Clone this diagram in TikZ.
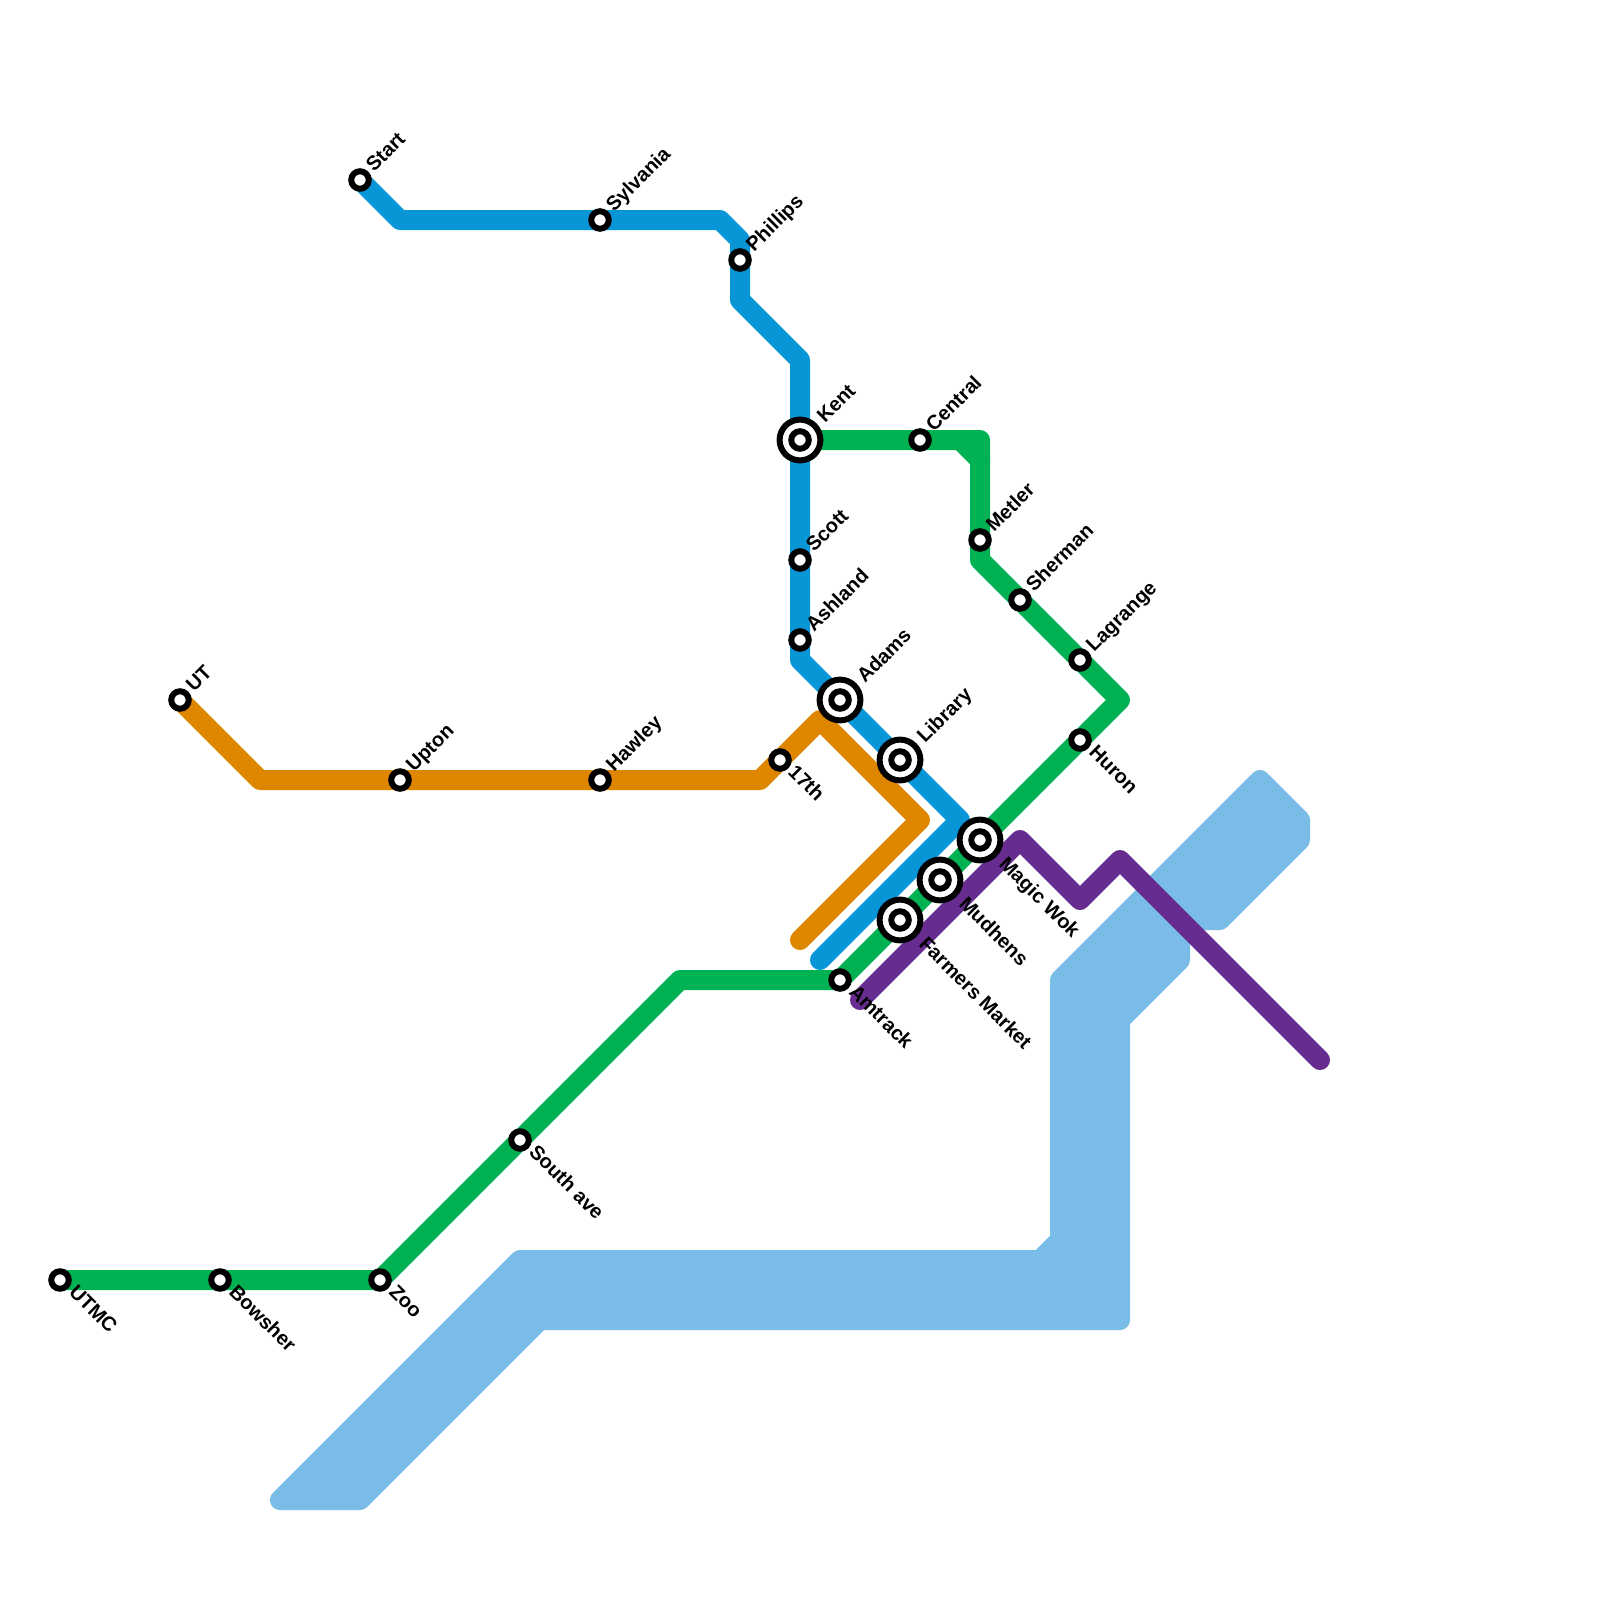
\documentclass[tikz,border=0pt]{standalone}
\usepackage{fontspec}
\setmainfont{Liberation Sans}
\pgfdeclarelayer{lines}
\pgfsetlayers{lines,main}
\definecolor{cblue}{HTML}{0896D7}
\definecolor{cgreen}{HTML}{00B251}
\definecolor{corange}{HTML}{DF8600}
\definecolor{cpurple}{HTML}{662C90}
\definecolor{cwater}{HTML}{7ABCE8}
\tikzset{
  x=1pt,y=-1pt,
  ring/.style={draw=black,fill=white,line width=6pt},
  rail/.style={line width=20pt,line cap=round,line join=round},
  water/.style={draw=cwater,fill=cwater,line width=20pt,line join=round},
  lab/.style={inner sep=0pt,font=\bfseries\fontsize{20}{24}\selectfont,anchor=base west},
  up/.style={lab,rotate=45},
  dn/.style={lab,rotate=-45},
}
\newcommand{\smallstn}[2]{\coordinate (#1) at #2; \path[ring] (#1) circle (8.75pt);}
\newcommand{\bigstn}[2]{\coordinate (#1) at #2; \path[ring] (#1) circle (20.4pt); \path[ring] (#1) circle (8.75pt);}
\begin{document}
\begin{tikzpicture}
\useasboundingbox (0,0) rectangle (1600,1600);
% stations
\smallstn{start}{(360,180)}
\smallstn{sylvania}{(600,220)}
\smallstn{phillips}{(740,260)}
\bigstn{kent}{(800,440)}
\smallstn{scott}{(800,560)}
\smallstn{ashland}{(800,640)}
\bigstn{adams}{(840,700)}
\bigstn{library}{(900,760)}
\bigstn{magic}{(980,840)}
\bigstn{mudhens}{(940,880)}
\bigstn{farmers}{(900,920)}
\smallstn{amtrack}{(840,980)}
\smallstn{central}{(920,440)}
\smallstn{metler}{(980,540)}
\smallstn{sherman}{(1020,600)}
\smallstn{lagrange}{(1080,660)}
\smallstn{huron}{(1080,740)}
\smallstn{ut}{(180,700)}
\smallstn{upton}{(400,780)}
\smallstn{hawley}{(600,780)}
\smallstn{seventeen}{(780,760)}
\smallstn{south}{(520,1140)}
\smallstn{zoo}{(380,1280)}
\smallstn{bowsher}{(220,1280)}
\smallstn{utmc}{(60,1280)}
% bends
\coordinate (b1) at (400,220);
\coordinate (b2) at (720,220);
\coordinate (b3) at (740,240);
\coordinate (b4) at (740,300);
\coordinate (b5) at (800,360);
\coordinate (b6) at (800,660);
\coordinate (b7) at (960,820);
\coordinate (b8) at (820,960);
\coordinate (o1) at (260,780);
\coordinate (o2) at (760,780);
\coordinate (o3) at (820,720);
\coordinate (o4) at (920,820);
\coordinate (o5) at (800,940);
\coordinate (g1) at (680,980);
\coordinate (g2) at (1120,700);
\coordinate (g3) at (980,560);
\coordinate (g4) at (980,440);
\coordinate (g5) at (960,440);
\coordinate (g6) at (980,460);
\coordinate (p1) at (860,1000);
\coordinate (p2) at (1020,840);
\coordinate (p3) at (1080,900);
\coordinate (p4) at (1120,860);
\coordinate (p5) at (1320,1060);
\begin{pgfonlayer}{lines}
\draw[water] (280,1500) -- (360,1500) -- (540,1320) -- (1120,1320) -- (1120,1020) -- (1180,960)
  -- (1180,920) -- (1220,920) -- (1300,840) -- (1300,820) -- (1260,780) -- (1060,980)
  -- (1060,1240) -- (1040,1260) -- (520,1260) -- cycle;
\draw[rail,cgreen] (utmc) -- (bowsher) -- (zoo) -- (south) -- (g1) -- (amtrack)
  -- (farmers) -- (mudhens) -- (magic) -- (huron) -- (g2) -- (lagrange) -- (sherman)
  -- (g3) -- (metler) -- (g4) -- (central) -- (kent);
\draw[rail,cgreen] (g5) -- (g6);
\draw[rail,corange] (ut) -- (o1) -- (upton) -- (hawley) -- (o2) -- (seventeen) -- (o3) -- (o4) -- (o5);
\draw[rail,cblue] (start) -- (b1) -- (sylvania) -- (b2) -- (b3) -- (phillips) -- (b4) -- (b5) -- (kent)
  -- (scott) -- (ashland) -- (b6) -- (adams) -- (library) -- (b7) -- (b8);
\draw[rail,cpurple] (p1) -- (p2) -- (p3) -- (p4) -- (p5);
\end{pgfonlayer}
% labels
\node[up] (l1) at ([shift={(14,-7)}]start) {Start};
\node[up] (l2) at ([shift={(14,-7)}]sylvania) {Sylvania};
\node[up] (l3) at ([shift={(14,-7)}]phillips) {Phillips};
\node[up] (l4) at ([shift={(25,-16)}]kent) {Kent};
\node[up] (l5) at ([shift={(14,-7)}]scott) {Scott};
\node[up] (l6) at ([shift={(14,-7)}]ashland) {Ashland};
\node[up] (l7) at ([shift={(25,-16)}]adams) {Adams};
\node[up] (l8) at ([shift={(25,-16)}]library) {Library};
\node[up] (l9) at ([shift={(14,-7)}]central) {Central};
\node[up] (l10) at ([shift={(14,-7)}]metler) {Metler};
\node[up] (l11) at ([shift={(14,-7)}]sherman) {Sherman};
\node[up] (l12) at ([shift={(14,-7)}]lagrange) {Lagrange};
\node[up] (l13) at ([shift={(14,-7)}]ut) {UT};
\node[up] (l14) at ([shift={(14,-7)}]upton) {Upton};
\node[up] (l15) at ([shift={(14,-7)}]hawley) {Hawley};
\node[dn] (l16) at ([shift={(8,13)}]huron) {Huron};
\node[dn] (l17) at ([shift={(7,13)}]seventeen) {17th};
\node[dn] (l18) at ([shift={(8,13)}]amtrack) {Amtrack};
\node[dn] (l19) at ([shift={(8,13)}]south) {South ave};
\node[dn] (l20) at ([shift={(8,13)}]zoo) {Zoo};
\node[dn] (l21) at ([shift={(8,13)}]bowsher) {Bowsher};
\node[dn] (l22) at ([shift={(8,13)}]utmc) {UTMC};
\node[dn] (l23) at ([shift={(18,25)}]magic) {Magic Wok};
\node[dn] (l24) at ([shift={(18,25)}]mudhens) {Mudhens};
\node[dn] (l25) at ([shift={(18,25)}]farmers) {Farmers Market};
\end{tikzpicture}
\end{document}
